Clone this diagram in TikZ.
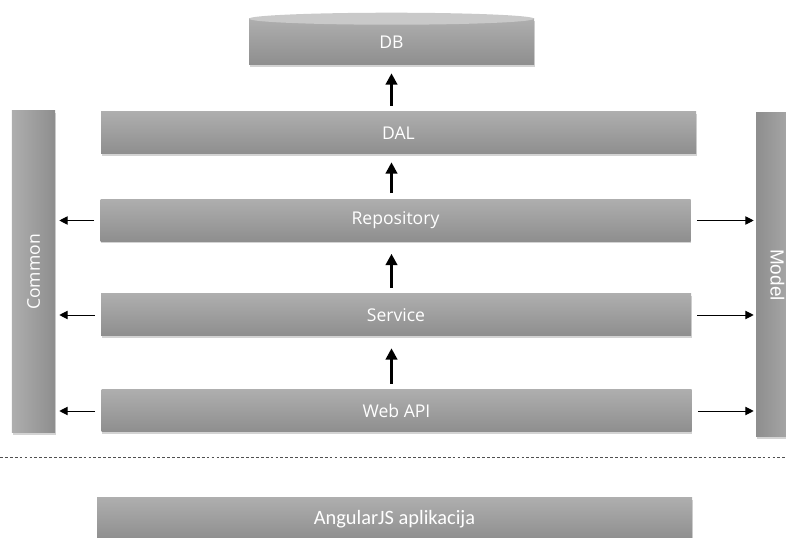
\documentclass[tikz,border=0pt]{standalone}
\usepackage{fontspec}
\setmainfont{Open Sans}
\newfontfamily\calibrifont{Carlito}
\newfontfamily\arialfont{Liberation Sans}
\usetikzlibrary{shadows,arrows.meta}

\definecolor{layertop}{HTML}{AEAEAE}
\definecolor{layerbot}{HTML}{8E8E8E}
\definecolor{dbend}{HTML}{C9C9C9}
\definecolor{sepline}{HTML}{505050}

\tikzset{
	layer/.style={rectangle, top color=layertop, bottom color=layerbot, text=white,
		font=\fontsize{12.5}{15}\selectfont, minimum width=14.75cm, minimum height=1.05cm,
		drop shadow={shadow xshift=0.5pt, shadow yshift=-1.3pt, opacity=0.35}},
	sidebar/.style={rectangle, text=white, minimum width=1.075cm, minimum height=8.1cm,
		drop shadow={shadow xshift=0.5pt, shadow yshift=-1.3pt, opacity=0.35}},
	uparrow/.style={-{Triangle[length=8pt,width=8pt]}, line width=2pt, shorten <=0.15cm, shorten >=0.2cm},
	sidearrow/.style={-{Triangle[length=6pt,width=6pt]}, line width=0.7pt}
}

\begin{document}
\begin{tikzpicture}
			\useasboundingbox (0,0) rectangle (19.65,13.45);

			% database on top
			\node[layer, minimum width=7.125cm, minimum height=1.15cm, text depth=-0.12cm] (db) at (9.7875,12.4) {DB};
			\fill[dbend] (db.north) ellipse (3.5625cm and 0.15cm);

			% layers of the server
			\node[layer, minimum width=14.875cm] (dal) at (9.9625,10.125) {DAL};
			\node[layer] (rep) at (9.8875,7.9375) {Repository};
			\node[layer] (svc) at (9.9,5.575) {Service};
			\node[layer] (api) at (9.9125,3.175) {Web API};

			\node[sidebar, minimum height=8.05cm, left color=layertop, right color=layerbot,
				font=\fontsize{12.5}{15}\selectfont] (common) at (0.8375,6.65) {\rotatebox{90}{Common}};
			\node[sidebar, left color=layerbot, right color=layertop,
				font=\arialfont\fontsize{13.5}{16}\selectfont] (model) at (19.4375,6.575) {\rotatebox{-90}{Model}};

			\draw[uparrow] (dal.north -| db.south) -- (db.south);
			\draw[uparrow] (rep.north -| db.south) -- (dal.south -| db.south);
			\draw[uparrow, shorten >=0.3cm] (svc.north -| db.south) -- (rep.south -| db.south);
			\draw[uparrow, shorten >=0.3cm] (api.north -| db.south) -- (svc.south -| db.south);

			\draw[sidearrow, shorten <=0.15cm, shorten >=0.1cm] (rep.west) -- (rep.west -| common.east);
			\draw[sidearrow, shorten <=0.15cm, shorten >=0.1cm] (svc.west) -- (svc.west -| common.east);
			\draw[sidearrow, shorten <=0.15cm, shorten >=0.1cm] (api.west) -- (api.west -| common.east);
			\draw[sidearrow, shorten <=0.15cm, shorten >=0.05cm] (rep.east) -- (rep.east -| model.west);
			\draw[sidearrow, shorten <=0.15cm, shorten >=0.05cm] (svc.east) -- (svc.east -| model.west);
			\draw[sidearrow, shorten <=0.15cm, shorten >=0.05cm] (api.east) -- (api.east -| model.west);

			% client side
			\draw[sepline, line width=0.7pt, dash pattern=on 2pt off 1.5pt] (0,2.025) -- (19.65,2.025);
			\node[layer, minimum width=14.875cm, font=\calibrifont\fontsize{14.5}{17}\selectfont] (app) at (9.8625,0.475) {AngularJS aplikacija};
		\end{tikzpicture}
\end{document}
